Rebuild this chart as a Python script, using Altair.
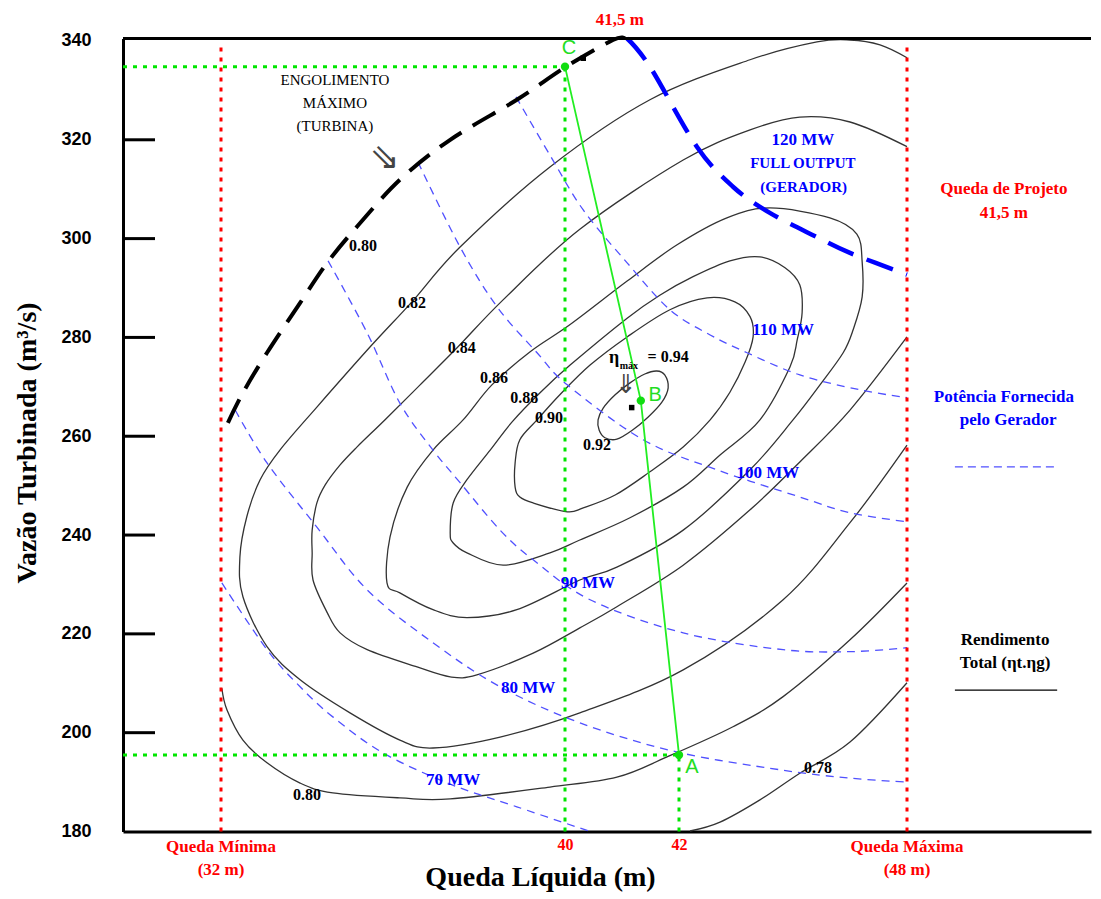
import altair as alt
import pandas as pd

# ---------------- layout / scales ----------------
W, H = 968, 793
X_DOMAIN = [29.7, 32, 40, 42, 48, 52.84]      # schematic (piecewise) head axis, m
X_RANGE = [0, 98, 442, 556, 784, 968]
X_TICKS = [40, 42]
Y_MIN, Y_MAX = 180, 340.5
Y_TICKS = [180, 200, 220, 240, 260, 280, 300, 320, 340]
Y_INNER_TICKS = [200, 220, 240, 260, 280, 300, 320]

# ---------------- efficiency contours (closed) ----------------
eff_092_x = [40.58, 40.67, 40.88, 41.14, 41.40, 41.61, 41.75, 41.81, 41.70, 41.46, 41.18, 40.91, 40.70, 40.60]
eff_092_y = [263.3, 265.7, 268.4, 270.8, 272.6, 273.2, 272.4, 269.8, 266.9, 263.9, 261.2, 259.4, 259.7, 261.2]
eff_090_x = [38.84, 38.84, 38.95, 39.35, 39.88, 40.44, 41.09, 41.84, 42.74, 43.47, 43.87, 43.95, 43.74, 43.34,
             42.82, 42.11, 41.49, 40.88, 40.32, 40.04, 39.26, 38.95]
eff_090_y = [249.7, 254.6, 259.3, 263.3, 268.4, 274.4, 280.1, 285.6, 288.0, 287.2, 284.2, 280.1, 275.0, 268.9,
             263.3, 257.8, 252.8, 248.1, 245.5, 244.7, 246.5, 247.7]
eff_088_x = [37.33, 37.40, 37.72, 38.26, 38.77, 39.42, 40.09, 41.09, 41.67, 42.37, 43.34, 44.13, 44.79, 45.18,
             45.24, 45.11, 44.92, 44.13, 43.08, 42.11, 41.14, 40.26, 39.65, 38.56, 37.72, 37.40]
eff_088_y = [240.4, 246.5, 251.2, 257.2, 262.9, 268.8, 274.4, 283.9, 288.6, 292.3, 295.5, 296.3, 294.1, 290.6,
             285.0, 279.5, 274.0, 263.3, 256.2, 249.7, 243.5, 239.0, 236.4, 233.9, 236.4, 238.4]
eff_086_x = [35.86, 35.93, 36.33, 36.93, 37.63, 38.30, 39.19, 40.09, 41.09, 41.96, 43.26, 44.39, 45.97, 46.68,
             46.82, 46.82, 46.58, 46.32, 45.71, 45.00, 43.87, 42.11, 40.91, 40.26, 38.88, 37.72, 36.93, 36.16]
eff_086_y = [230.3, 239.6, 249.7, 257.2, 263.3, 270.4, 277.1, 282.6, 291.4, 298.7, 304.2, 306.2, 304.2, 300.9,
             295.3, 288.2, 281.5, 276.9, 270.4, 263.3, 253.2, 241.0, 233.5, 230.9, 224.9, 223.3, 224.9, 228.3]

# ---------------- efficiency contours (open, cut at 32 m / 48 m) ----------------
eff_084_x = [48.00, 46.50, 45.18, 43.87, 42.11, 40.26, 38.56, 37.49, 36.63, 35.81, 35.16, 34.77, 34.42, 34.23,
             34.12, 34.12, 34.14, 34.47, 34.77, 35.40, 36.56, 37.33, 37.95, 39.26, 40.26, 40.91, 42.11, 43.87,
             45.18, 46.50, 48.00]
eff_084_y = [318.6, 323.6, 324.6, 322.0, 315.9, 301.9, 287.6, 277.9, 270.4, 263.3, 257.8, 254.2, 250.1, 246.5,
             241.0, 236.4, 230.9, 224.3, 220.2, 216.8, 213.3, 211.3, 211.7, 216.1, 221.2, 225.5, 233.9, 245.1,
             254.8, 265.3, 280.1]
eff_082_x = [48.00, 47.29, 46.50, 45.63, 43.87, 41.49, 39.65, 37.56, 36.44, 35.47, 34.23, 33.37, 32.91, 32.60,
             32.44, 32.51, 33.07, 33.84, 35.00, 36.16, 36.93, 38.49, 40.26, 42.11, 44.74, 46.50, 48.00]
eff_082_y = [336.6, 339.2, 340.2, 339.8, 336.2, 328.1, 314.5, 298.3, 287.2, 278.1, 265.9, 257.2, 251.2, 243.7,
             235.6, 227.5, 217.4, 210.7, 204.0, 198.5, 196.9, 199.1, 204.0, 212.7, 226.9, 242.5, 258.2]
eff_080_x = [32.02, 32.14, 32.51, 33.07, 33.84, 34.60, 36.16, 37.33, 39.65, 40.91, 41.79, 43.42, 44.74, 46.50, 48.00]
eff_080_y = [209.0, 204.6, 198.5, 193.9, 189.8, 187.8, 186.8, 186.6, 189.0, 191.0, 195.1, 201.2, 207.3, 218.8, 230.3]
eff_078_x = [42.29, 43.08, 44.13, 45.18, 46.50, 48.00]
eff_078_y = [180.1, 181.9, 186.4, 191.8, 198.1, 210.1]

# ---------------- generator power lines ----------------
p70_x = [32.02, 33.07, 33.84, 34.60, 35.77, 37.33, 38.88, 40.44]
p70_y = [230.3, 216.8, 209.3, 203.2, 195.9, 189.6, 185.0, 180.0]
p80_x = [32.33, 33.07, 34.23, 35.40, 36.93, 38.49, 40.26, 41.96, 44.74, 46.50, 48.00]
p80_y = [265.3, 254.6, 241.6, 228.9, 218.2, 209.3, 202.0, 196.1, 192.4, 190.8, 190.0]
p90_x = [34.49, 35.40, 36.16, 36.93, 37.56, 38.49, 39.26, 40.44, 42.11, 44.74, 46.50, 48.00]
p90_y = [295.5, 280.9, 266.7, 257.2, 250.6, 241.0, 235.0, 226.9, 220.2, 216.8, 216.4, 217.2]
p100_x = [36.58, 37.56, 38.42, 39.35, 40.04, 41.37, 43.00, 45.18, 46.50, 48.00]
p100_y = [315.5, 298.3, 286.2, 276.9, 270.4, 259.3, 253.2, 247.7, 244.5, 242.7]
p110_x = [38.86, 39.65, 40.32, 41.09, 41.84, 42.82, 43.79, 45.18, 46.76, 48.00]
p110_y = [328.7, 316.9, 305.8, 295.1, 285.6, 280.5, 276.9, 272.4, 269.4, 267.8]
p120_x = [41.09, 41.49, 42.47, 43.42, 44.39, 45.63, 46.50, 48.00]
p120_y = [340.5, 334.8, 318.6, 310.5, 305.2, 300.3, 297.1, 292.7]

# turbine maximum swallowing capacity
turb_x = [32.16, 32.51, 33.07, 33.84, 34.47, 35.16, 36.16, 37.33, 38.88, 40.02, 40.84, 41.05]
turb_y = [262.7, 268.8, 276.9, 287.0, 295.1, 302.4, 311.9, 320.0, 328.1, 334.8, 340.2, 340.5]

# operating points
pt_name = ['C', 'B', 'A']
pt_x = [40.0, 41.33, 42.0]
pt_y = [334.8, 267.2, 195.5]
sq_x = [40.32, 41.17]
sq_y = [336.5, 265.8]

# ---------------- labels ----------------
lab_text = ['0.80', '0.82', '0.84', '0.86', '0.88', '0.90', '0.92', '0.80', '0.78']
lab_x = [35.30, 36.44, 37.60, 38.35, 39.05, 39.63, 40.56, 34.00, 45.66]
lab_y = [298.5, 287.0, 277.9, 271.8, 267.8, 263.7, 258.2, 187.4, 192.9]

mw_text = ['70 MW', '80 MW', '90 MW', '100 MW', '110 MW', '120 MW', 'FULL OUTPUT', '(GERADOR)',
           'Potência Fornecida', 'pelo Gerador']
mw_x = [37.40, 39.14, 40.40, 44.34, 44.74, 45.26, 45.26, 45.28, 50.55, 50.66]
mw_y = [190.4, 209.0, 230.3, 252.6, 281.5, 320.0, 315.3, 310.5, 268.0, 263.3]
mw_size = [17, 17, 17, 17, 17, 17, 15, 15, 17, 17]

red_text = ['41,5 m', 'Queda de Projeto', '41,5 m', 'Queda Mínima', '(32 m)', 'Queda Máxima', '(48 m)']
red_x = [40.96, 50.55, 50.55, 32.0, 32.0, 48.0, 48.0]
red_y = [344.3, 310.1, 305.2, 176.9, 172.2, 176.9, 172.2]

blk_text = ['Rendimento', 'Total (ηt.ηg)', 'η', 'máx', '= 0.94']
blk_x = [50.58, 50.58, 40.86, 41.12, 41.81]
blk_y = [218.8, 214.1, 275.8, 274.2, 276.1]
blk_size = [17, 17, 18, 10, 16]

turb_text = ['ENGOLIMENTO', 'MÁXIMO', '(TURBINA)']
turb_lx = [34.65, 34.65, 34.65]
turb_ly = [332.1, 327.5, 322.7]

arrow_text = ['⇘', '⇓']
arrow_x = [35.81, 41.07]
arrow_y = [316.3, 270.4]
arrow_size = [36, 26]

legend_x = [49.26, 49.26]
legend_x2 = [51.95, 51.95]
legend_y = [253.8, 208.6]

# ---------------- helpers ----------------
XS = alt.Scale(domain=X_DOMAIN, range=X_RANGE, nice=False, zero=False)
YS = alt.Scale(domain=[Y_MIN, Y_MAX], nice=False, zero=False)

X_AXIS = alt.Axis(values=X_TICKS, format='d', title='Queda Líquida (m)', ticks=False, grid=False,
                  domainColor='black', domainWidth=3, labelColor='#ff0000', labelFont='Liberation Serif',
                  labelFontWeight='bold', labelFontSize=16, labelPadding=5,
                  titleFont='Liberation Serif', titleFontSize=28, titleFontWeight='bold', titleColor='black',
                  titleX=417, titleY=54, titleBaseline='alphabetic')
Y_AXIS = alt.Axis(values=Y_TICKS, format='d', title='Vazão Turbinada (m³/s)', ticks=False, grid=False,
                  domainColor='black', domainWidth=3, labelColor='black', labelFont='Liberation Sans',
                  labelFontWeight='bold', labelFontSize=18, labelPadding=32, labelFlush=False,
                  titleFont='Liberation Serif', titleFontSize=28, titleFontWeight='bold', titleColor='black',
                  titleX=-88, titleY=404, titleBaseline='alphabetic')


def xe(f='x'):
    return alt.X(f'{f}:Q', scale=XS, axis=X_AXIS)


def ye(f='y'):
    return alt.Y(f'{f}:Q', scale=YS, axis=Y_AXIS)


def frame(groups):
    rows = []
    for name, xs, ys in groups:
        for i, (a, b) in enumerate(zip(xs, ys)):
            rows.append({'g': name, 'i': i, 'x': a, 'y': b})
    return pd.DataFrame(rows)


def text_layer(texts, xs, ys, sizes, color, font='Liberation Serif', weight='bold'):
    df = pd.DataFrame({'t': texts, 'x': xs, 'y': ys, 's': sizes})
    return alt.Chart(df).mark_text(color=color, font=font, fontWeight=weight, align='center',
                                   baseline='middle').encode(
        x=xe(), y=ye(), text='t:N', size=alt.Size('s:Q', scale=None, legend=None))


closed = frame([('0.92', eff_092_x, eff_092_y), ('0.90', eff_090_x, eff_090_y),
                ('0.88', eff_088_x, eff_088_y), ('0.86', eff_086_x, eff_086_y)])
opened = frame([('0.84', eff_084_x, eff_084_y), ('0.82', eff_082_x, eff_082_y),
                ('0.80', eff_080_x, eff_080_y), ('0.78', eff_078_x, eff_078_y)])
power = frame([('70', p70_x, p70_y), ('80', p80_x, p80_y), ('90', p90_x, p90_y),
               ('100', p100_x, p100_y), ('110', p110_x, p110_y)])
full = frame([('120', p120_x, p120_y)])
turb = frame([('turb', turb_x, turb_y)])
path = frame([('CBA', pt_x, pt_y)])

CONTOUR = '#333333'

closed_layer = alt.Chart(closed).mark_line(interpolate='cardinal-closed', color=CONTOUR, strokeWidth=1.3).encode(
    x=xe(), y=ye(), detail='g:N', order='i:Q')
open_layer = alt.Chart(opened).mark_line(interpolate='cardinal', color=CONTOUR, strokeWidth=1.3).encode(
    x=xe(), y=ye(), detail='g:N', order='i:Q')
power_layer = alt.Chart(power).mark_line(interpolate='cardinal', color='#5050ff', strokeWidth=1.3,
                                         strokeDash=[8, 6]).encode(x=xe(), y=ye(), detail='g:N', order='i:Q')
full_layer = alt.Chart(full).mark_line(interpolate='cardinal', color='#0000ff', strokeWidth=4.5,
                                       strokeDash=[28, 14]).encode(x=xe(), y=ye(), order='i:Q')
turb_layer = alt.Chart(turb).mark_line(interpolate='cardinal', color='black', strokeWidth=4,
                                       strokeDash=[26, 13]).encode(x=xe(), y=ye(), order='i:Q')

# frame: top line and inward y ticks
top_df = pd.DataFrame({'x': [X_DOMAIN[0]], 'x2': [X_DOMAIN[-1]], 'y': [Y_MAX]})
top_layer = alt.Chart(top_df).mark_rule(color='black', strokeWidth=3).encode(x=xe(), x2='x2:Q', y=ye())
tick_df = pd.DataFrame({'y': Y_INNER_TICKS})
tick_layer = alt.Chart(tick_df).mark_rule(color='black', strokeWidth=3).encode(
    y=ye(), x=alt.value(0), x2=alt.value(32))

# red limit lines (32 m and 48 m)
red_df = pd.DataFrame({'x': [32, 48], 'y': [Y_MIN, Y_MIN], 'y2': [338.8, 338.8]})
red_layer = alt.Chart(red_df).mark_rule(color='#ff0000', strokeWidth=3, strokeDash=[4, 6]).encode(
    x=xe(), y=ye(), y2='y2:Q')

# green guide lines
gh_df = pd.DataFrame({'x': [X_DOMAIN[0], X_DOMAIN[0]], 'x2': [pt_x[0], pt_x[2]], 'y': [pt_y[0], pt_y[2]]})
gv_df = pd.DataFrame({'x': [pt_x[0], pt_x[2]], 'y': [Y_MIN, Y_MIN], 'y2': [pt_y[0], pt_y[2]]})
gh_layer = alt.Chart(gh_df).mark_rule(color='#00e600', strokeWidth=3, strokeDash=[4, 6]).encode(
    x=xe(), x2='x2:Q', y=ye())
gv_layer = alt.Chart(gv_df).mark_rule(color='#00e600', strokeWidth=3, strokeDash=[4, 6]).encode(
    x=xe(), y=ye(), y2='y2:Q')
path_layer = alt.Chart(path).mark_line(color='#22ee22', strokeWidth=1.8).encode(x=xe(), y=ye(), order='i:Q')

pts_df = pd.DataFrame({'x': pt_x, 'y': pt_y})
pts_layer = alt.Chart(pts_df).mark_point(filled=True, color='#11dd11', size=70, opacity=1).encode(x=xe(), y=ye())
sq_df = pd.DataFrame({'x': sq_x, 'y': sq_y})
sq_layer = alt.Chart(sq_df).mark_square(color='black', size=30, opacity=1).encode(x=xe(), y=ye())

# legend lines on the right
leg_df = pd.DataFrame({'x': legend_x[:1], 'x2': legend_x2[:1], 'y': legend_y[:1]})
leg_blue = alt.Chart(leg_df).mark_rule(color='#5050ff', strokeWidth=1.3, strokeDash=[8, 5]).encode(
    x=xe(), x2='x2:Q', y=ye())
leg_df2 = pd.DataFrame({'x': legend_x[1:], 'x2': legend_x2[1:], 'y': legend_y[1:]})
leg_black = alt.Chart(leg_df2).mark_rule(color='black', strokeWidth=1.3).encode(x=xe(), x2='x2:Q', y=ye())

# texts
t_labels = text_layer(lab_text, lab_x, lab_y, [16] * len(lab_text), 'black')
t_blue = text_layer(mw_text, mw_x, mw_y, mw_size, '#0000ff')
t_red = text_layer(red_text, red_x, red_y, [17] * len(red_text), '#ff0000')
t_black = text_layer(blk_text, blk_x, blk_y, blk_size, 'black')
t_turb = text_layer(turb_text, turb_lx, turb_ly, [15, 15, 15], 'black', weight='normal')
t_pts = text_layer(pt_name, [40.07, 41.58, 42.34], [338.6, 268.4, 193.1], [20, 20, 20], '#22dd22',
                   font='Liberation Sans', weight='normal')
t_arrow = text_layer(arrow_text, arrow_x, arrow_y, arrow_size, '#444444', font='DejaVu Sans', weight='normal')

chart = alt.layer(
    closed_layer, open_layer, power_layer, full_layer, turb_layer,
    red_layer, gh_layer, gv_layer, path_layer,
    top_layer, tick_layer, leg_blue, leg_black,
    pts_layer, sq_layer,
    t_labels, t_blue, t_red, t_black, t_turb, t_pts, t_arrow,
).properties(
    width=W, height=H,
    padding={'left': 115, 'top': 30.5, 'right': 2, 'bottom': 64},
    autosize=alt.AutoSizeParams(type='none'),
).configure_view(stroke=None)

chart.save('out.html', embed_options={'renderer': 'svg', 'actions': False})
